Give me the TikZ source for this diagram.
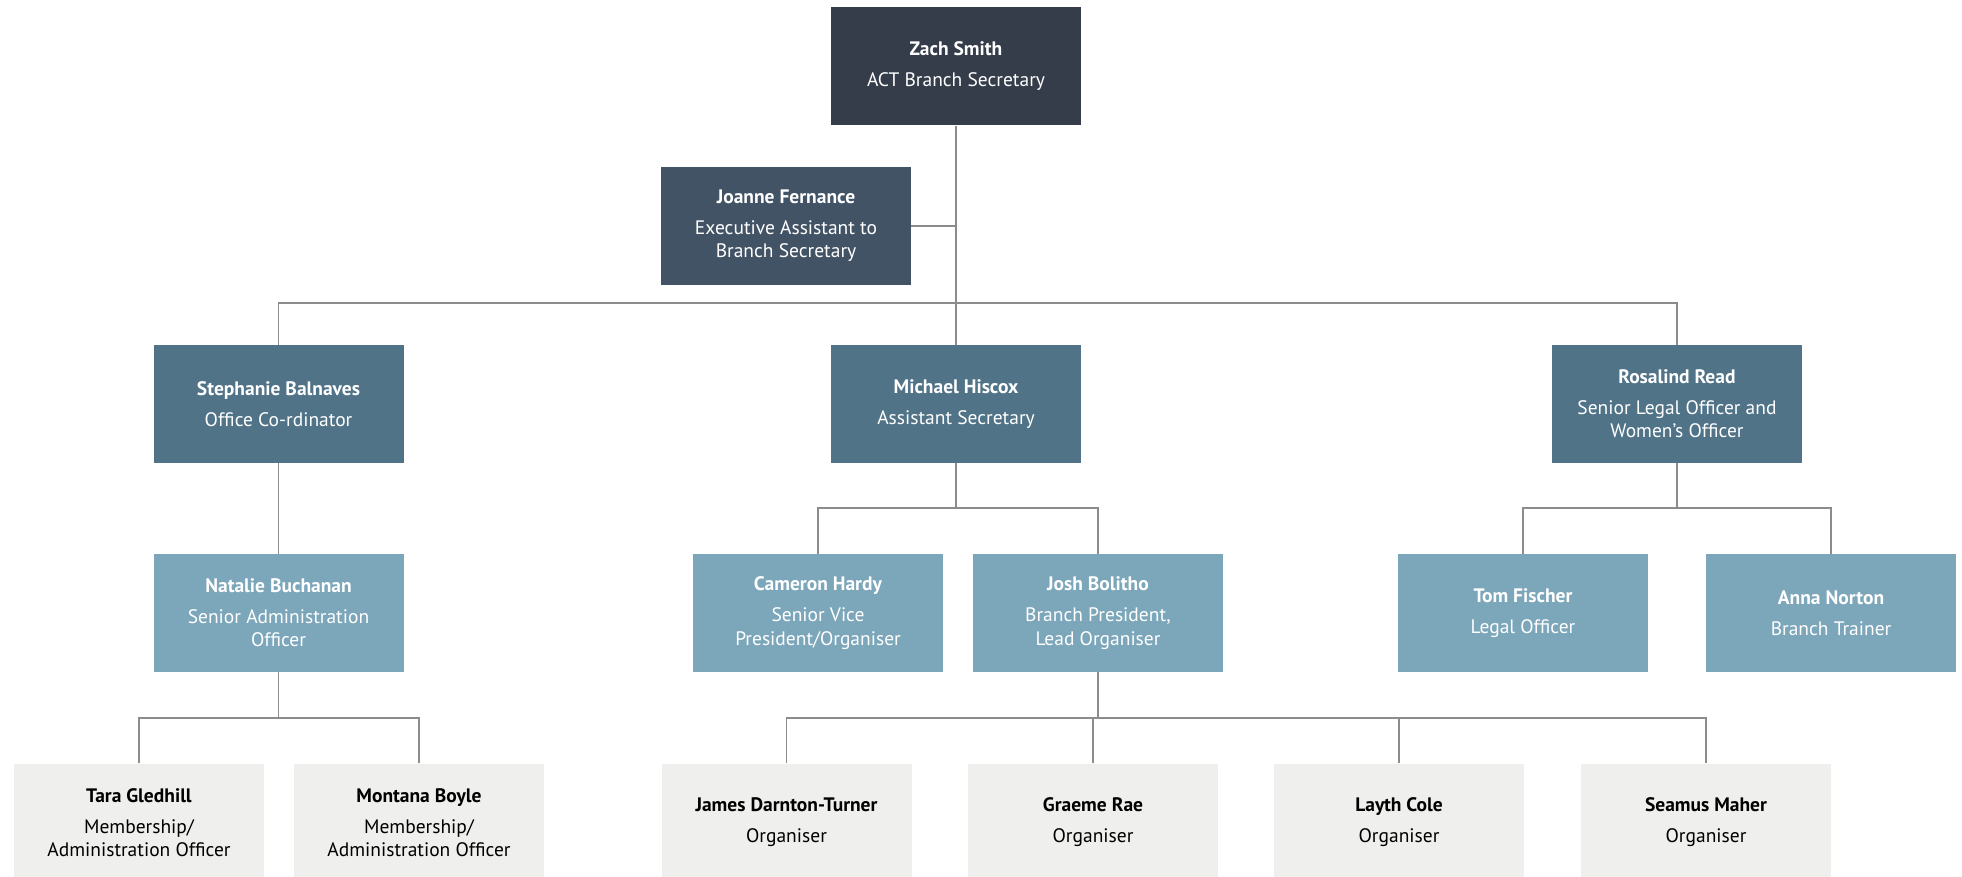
\documentclass[tikz,border=0pt]{standalone}
\usepackage{fontspec}
\setmainfont{PT Sans}
\definecolor{cTop}{HTML}{343D49}
\definecolor{cExec}{HTML}{435366}
\definecolor{cMid}{HTML}{507388}
\definecolor{cLow}{HTML}{7CA6BA}
\definecolor{cBot}{HTML}{EFEFED}
\definecolor{cLine}{HTML}{8C8C8C}
\tikzset{
  box/.style={rectangle, minimum width=250pt, minimum height=118pt, inner sep=0pt, align=center,
    font=\fontsize{19.5}{23.3}\selectfont},
  topbox/.style={box, fill=cTop, text=white},
  execbox/.style={box, fill=cExec, text=white},
  midbox/.style={box, fill=cMid, text=white},
  lowbox/.style={box, fill=cLow, text=white},
  botbox/.style={box, fill=cBot, text=black},
  conn/.style={draw=cLine, line width=1.4pt},
}
\newcommand{\pname}[1]{\textbf{#1}\\[7.7pt]}
\begin{document}
\begin{tikzpicture}[x=1pt,y=-1pt]
\useasboundingbox (0,0) rectangle (1962,877);
\clip (0,0) rectangle (1962,877);
% nodes
\node[topbox] (zach) at (956,66.5) {\pname{Zach Smith}ACT Branch Secretary};
\node[execbox] (joanne) at (786,226) {\pname{Joanne Fernance}Executive Assistant to\\Branch Secretary};
\node[midbox] (steph) at (278.5,404) {\pname{Stephanie Balnaves}Office Co-rdinator};
\node[midbox] (michael) at (956,404) {\pname{Michael Hiscox}Assistant Secretary};
\node[midbox] (ros) at (1677,404) {\pname{Rosalind Read}Senior Legal Officer and\\Women’s Officer};
\node[lowbox] (nat) at (278.5,613) {\pname{Natalie Buchanan}Senior Administration\\Officer};
\node[lowbox] (cam) at (818,613) {\pname{Cameron Hardy}Senior Vice\\President/Organiser};
\node[lowbox] (josh) at (1098,613) {\pname{Josh Bolitho}Branch President,\\Lead Organiser};
\node[lowbox] (tom) at (1523,613) {\pname{Tom Fischer}Legal Officer};
\node[lowbox] (anna) at (1831,613) {\pname{Anna Norton}Branch Trainer};
\node[botbox] (tara) at (139,822.5) {\pname{Tara Gledhill}Membership/\\Administration Officer};
\node[botbox] (montana) at (419,822.5) {\pname{Montana Boyle}Membership/\\Administration Officer};
\node[botbox] (james) at (786.5,822.5) {\pname{James Darnton-Turner}Organiser};
\node[botbox] (graeme) at (1093,822.5) {\pname{Graeme Rae}Organiser};
\node[botbox] (layth) at (1399,822.5) {\pname{Layth Cole}Organiser};
\node[botbox] (seamus) at (1706,822.5) {\pname{Seamus Maher}Organiser};
% junction coordinates
\coordinate (bar1) at (956,303);
\coordinate (bar2) at (956,508);
\coordinate (bar3) at (1677,508);
\coordinate (bar4) at (278.5,718);
\coordinate (bar5) at (1098,718);
% connectors
\draw[conn] (zach.south) -- (michael.north);
\draw[conn] (joanne.east) -- (joanne.east -| zach.south);
\draw[conn] (steph.north) |- (bar1) -| (ros.north);
\draw[conn] (steph.south) -- (nat.north);
\draw[conn] (michael.south) -- (bar2);
\draw[conn] (cam.north) |- (bar2) -| (josh.north);
\draw[conn] (ros.south) -- (bar3);
\draw[conn] (tom.north) |- (bar3) -| (anna.north);
\draw[conn] (nat.south) -- (bar4);
\draw[conn] (tara.north) |- (bar4) -| (montana.north);
\draw[conn] (josh.south) -- (bar5);
\draw[conn] (james.north) |- (bar5) -| (seamus.north);
\draw[conn] (graeme.north) -- (graeme.north |- bar5);
\draw[conn] (layth.north) -- (layth.north |- bar5);
\end{tikzpicture}
\end{document}
